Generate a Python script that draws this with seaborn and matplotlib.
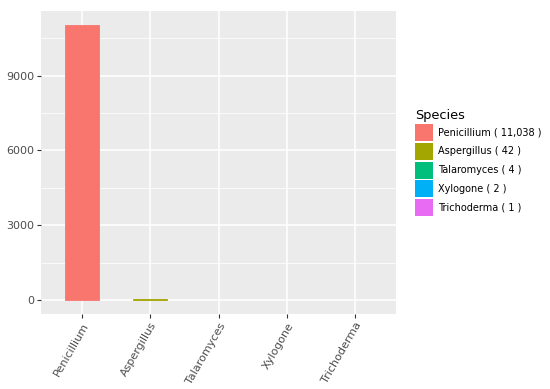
import matplotlib
matplotlib.use("Agg")
import matplotlib.pyplot as plt
import seaborn as sns
import pandas as pd
from matplotlib.patches import Patch

species = ["Penicillium", "Aspergillus", "Talaromyces", "Xylogone", "Trichoderma"]
counts = [11038, 42, 4, 2, 1]
legend_labels = ["Penicillium ( 11,038 )", "Aspergillus ( 42 )", "Talaromyces ( 4 )",
                 "Xylogone ( 2 )", "Trichoderma ( 1 )"]
colors = ["#F8766D", "#A3A500", "#00BF7D", "#00B0F6", "#E76BF3"]
yticks = [0, 3000, 6000, 9000]

df = pd.DataFrame({"Species": species, "Count": counts})

fig = plt.figure(figsize=(5.5, 3.89), dpi=100)
ax = fig.add_axes([41/550, 1-314/389, (396-41)/550, (314-11)/389])
ax.set_facecolor("#EBEBEB")
sns.barplot(data=df, x="Species", y="Count", hue="Species", palette=colors,
            width=0.5, dodge=False, legend=False, ax=ax, saturation=1, zorder=3,
            linewidth=0)

ax.set_xlim(-0.6, 4.6)
ax.set_ylim(-552, 11590)

# give bars that are at least about one pixel tall a thin outline of their own colour
fig.canvas.draw()
for bar, c in zip(ax.patches, colors):
    y0 = ax.transData.transform((0, 0))[1]
    y1 = ax.transData.transform((0, bar.get_height()))[1]
    if abs(y1 - y0) >= 1.0:
        bar.set_edgecolor(c)
        bar.set_linewidth(0.6)

ax.set_yticks(yticks)
ax.set_yticks([1500, 4500, 7500, 10500], minor=True)
ax.grid(True, which="major", color="white", linewidth=1.1, zorder=0)
ax.grid(True, which="minor", axis="y", color="white", linewidth=0.55, zorder=0)
ax.set_axisbelow(True)
for s in ax.spines.values():
    s.set_visible(False)
ax.tick_params(axis="both", which="major", length=2.8, width=0.8, color="#333333",
               labelcolor="#4D4D4D", labelsize=8, pad=2)
ax.tick_params(axis="both", which="minor", length=0)
ax.set_xlabel("")
ax.set_ylabel("")
ax.set_xticks(range(len(species)))
ax.set_xticklabels(species, rotation=60, ha="right", rotation_mode="anchor")

handles = [Patch(facecolor=c, edgecolor="none", label=l) for c, l in zip(colors, legend_labels)]
leg = fig.legend(handles=handles, title="Species", loc="upper left",
                 bbox_to_anchor=(406/550, 1-100/389), frameon=False,
                 fontsize=7, title_fontsize=9.3, handlelength=1.85, handleheight=2.31,
                 labelspacing=0.2, handletextpad=0.55, alignment="left")

fig.savefig("out.png", dpi=100)
